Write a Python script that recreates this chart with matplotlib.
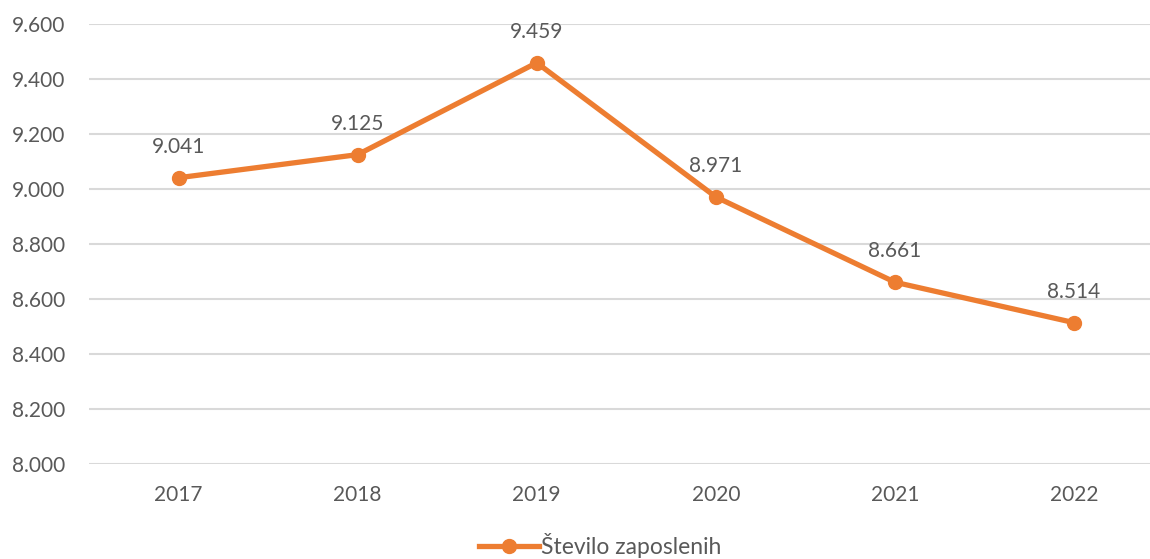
import matplotlib
matplotlib.use('Agg')
import matplotlib.pyplot as plt
from matplotlib.ticker import FuncFormatter

years = ['2017', '2018', '2019', '2020', '2021', '2022']
employees = [9041, 9125, 9459, 8971, 8661, 8514]
label_name = 'Število zaposlenih'

def fmt(v):
    return f'{v:,.0f}'.replace(',', '.')

plt.rcParams['font.family'] = ['Lato', 'DejaVu Sans']
grey = '#595959'
orange = '#ED7D31'

fig = plt.figure(figsize=(11.5, 5.59), dpi=100)
W, H = 1150, 559
left, right, top, bottom = 89, 1163.6, 24, 464
ax = fig.add_axes([left / W, 1 - bottom / H, (right - left) / W, (bottom - top) / H])

x = list(range(len(years)))
ax.plot(x, employees, color=orange, linewidth=3.8, marker='o', markersize=10,
        label=label_name, zorder=3)
for xi, v in zip(x, employees):
    ax.annotate(fmt(v), (xi, v), xytext=(0, 15), textcoords='offset points',
                ha='center', va='bottom', fontsize=15, color=grey)

ax.set_xlim(-0.5, len(years) - 0.5)
ax.set_ylim(8000, 9600)
ax.set_yticks(range(8000, 9601, 200))
ax.yaxis.set_major_formatter(FuncFormatter(lambda v, p: fmt(v)))
ax.set_xticks(x)
ax.set_xticklabels(years)
ax.grid(axis='y', color='#D9D9D9', linewidth=1.5)
ax.set_axisbelow(True)
for s in ax.spines.values():
    s.set_visible(False)
ax.tick_params(axis='x', length=0, labelsize=15, colors=grey, pad=15)
ax.tick_params(axis='y', length=0, labelsize=15, colors=grey, pad=17)

fig.legend(loc='center', bbox_to_anchor=(0.522, 1 - 546 / H), frameon=False,
           fontsize=16.5, labelcolor=grey, handlelength=2.6, handletextpad=0.1)

fig.savefig('out.png', dpi=100)
